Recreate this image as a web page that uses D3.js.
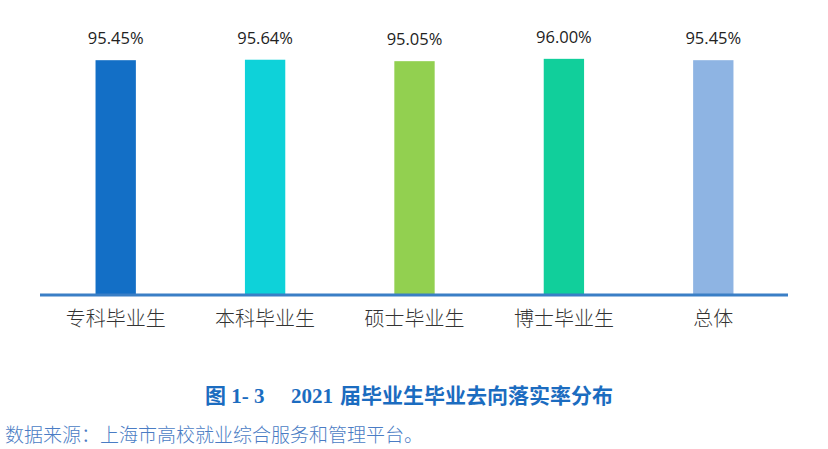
<!DOCTYPE html>
<html><head><meta charset="utf-8">
<script src="https://cdn.jsdelivr.net/npm/d3@7"></script>
<style>body{margin:0;background:#fff;}svg{display:block;}</style>
</head><body>
<svg id="c" width="828" height="449"></svg>
<script>
const categories = ["专科毕业生","本科毕业生","硕士毕业生","博士毕业生","总体"];
const values = [95.45, 95.64, 95.05, 96.00, 95.45];
const valueLabels = ["95.45%","95.64%","95.05%","96.00%","95.45%"];
const colors = ["#136fc6","#0ed2d9","#92d050","#11cf9b","#8eb4e3"];
const titleParts = ["图 1- 3", "2021", "届毕业生毕业去向落实率分布"];
const source = "数据来源：上海市高校就业综合服务和管理平台。";

const svg = d3.select("#c");
const x = d3.scaleBand().domain(categories).range([41, 788]).paddingInner(0.73).paddingOuter(0.365);
const y = d3.scaleLinear().domain([0, 100]).range([295, 49]);

svg.selectAll("rect.bar").data(values).enter().append("rect")
  .attr("class","bar")
  .attr("x",(d,i)=>x(categories[i]))
  .attr("width",x.bandwidth())
  .attr("y",d=>y(d))
  .attr("height",d=>y(0)-y(d))
  .attr("fill",(d,i)=>colors[i]);

svg.selectAll("text.val").data(values).enter().append("text")
  .attr("class","val")
  .attr("x",(d,i)=>x(categories[i])+x.bandwidth()/2)
  .attr("y",d=>y(d)-16)
  .attr("text-anchor","middle")
  .attr("font-family","'Open Sans','Noto Sans',sans-serif")
  .attr("font-size",16.5)
  .attr("fill","#222")
  .text((d,i)=>valueLabels[i]);

const axis = d3.axisBottom(x).tickSize(0).tickPadding(0);
const g = svg.append("g").attr("transform","translate(0,295)").call(axis);
g.select(".domain").attr("stroke","#3a7fc6").attr("stroke-width",3).attr("d","M40,0H788");
g.selectAll(".tick text").attr("font-family","'Noto Sans CJK SC',sans-serif")
  .attr("font-weight",300)
  .attr("font-size",20).attr("fill","#333").attr("y",31).attr("dy",0);

const t = svg.append("text").attr("x",205).attr("y",403)
  .attr("font-family","'Liberation Serif','Noto Sans CJK SC',serif").attr("font-weight","bold")
  .attr("font-size",21).attr("fill","#1b6cc0");
t.append("tspan").text(titleParts[0]);
t.append("tspan").attr("x",291).text(titleParts[1]);
t.append("tspan").attr("x",340).text(titleParts[2]);

svg.append("text").attr("x",5).attr("y",442)
  .attr("font-family","'Noto Sans CJK SC',sans-serif").attr("font-weight",300)
  .attr("font-size",19).attr("fill","#4a7cc4").text(source);
</script>
</body></html>
